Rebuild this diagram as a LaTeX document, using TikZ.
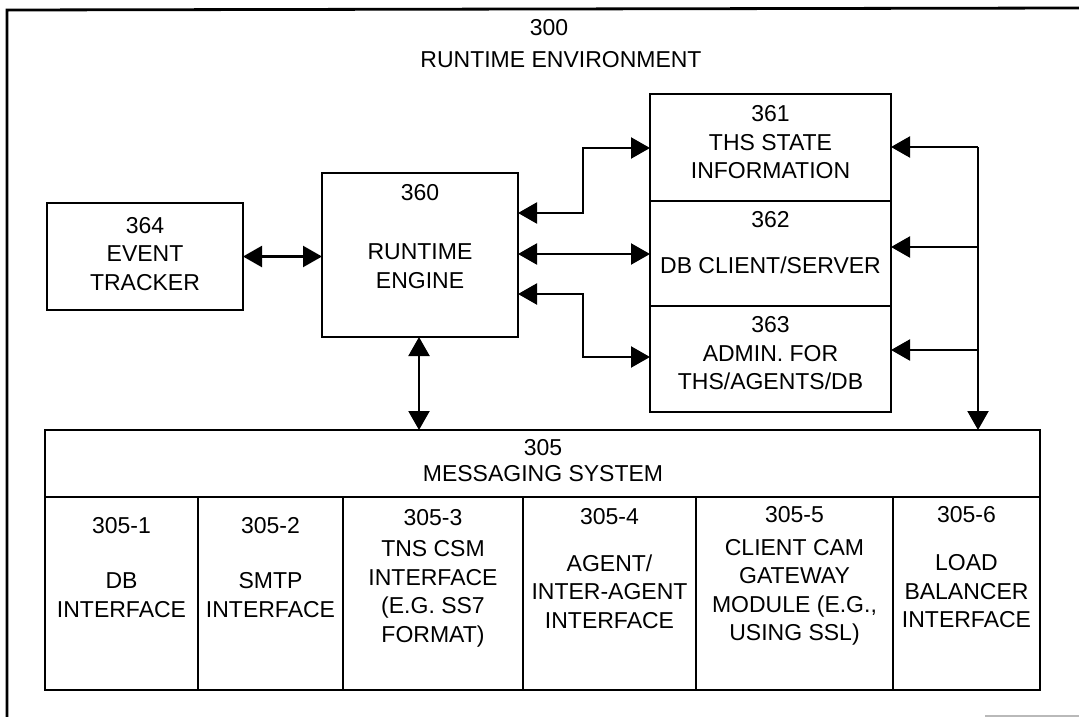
\documentclass[tikz,border=0pt]{standalone}
\usepackage{fontspec}
\setmainfont{Liberation Sans}
\usetikzlibrary{arrows.meta}
\begin{document}
\begin{tikzpicture}[x=1pt,y=-1pt,
  box/.style={draw, line width=2.8pt, rectangle, inner sep=0pt, outer sep=0pt},
  txt/.style={align=center, inner sep=0pt, font=\fontsize{23}{28.5}\selectfont},
  tip/.tip={Triangle[length=19pt,width=21pt]},
  conn/.style={line width=2.2pt, -tip},
  biconn/.style={line width=2.2pt, tip-tip}]
\useasboundingbox (0,0) rectangle (1079,717);
\fill[white] (0,0) rectangle (1079,717);
% outer frame (partly cut off)
\draw[line width=2.8pt] (7,717) -- (7,10) -- (1079,8);
\draw[gray!55, line width=1.5pt] (985,716) -- (1079,716);
\node[txt] (t300) at (549,28) {300};
\node[txt] (tenv) at (561,60) {RUNTIME ENVIRONMENT};

% boxes
\node[box, minimum width=196pt, minimum height=107pt] (b364) at (145,256.5) {};
\node[box, minimum width=196pt, minimum height=164pt] (b360) at (420,255) {};
\node[box, minimum width=241pt, minimum height=107pt] (b361) at (770.5,147.5) {};
\node[box, minimum width=241pt, minimum height=105pt] (b362) at (770.5,253.5) {};
\node[box, minimum width=241pt, minimum height=106pt] (b363) at (770.5,359) {};
\node[box, minimum width=995pt, minimum height=67pt] (b305) at (542.5,463.5) {};
\node[box, minimum width=153pt, minimum height=193pt] (c1) at (121.5,593.5) {};
\node[box, minimum width=145pt, minimum height=193pt] (c2) at (270.5,593.5) {};
\node[box, minimum width=180pt, minimum height=193pt] (c3) at (433,593.5) {};
\node[box, minimum width=173pt, minimum height=193pt] (c4) at (609.5,593.5) {};
\node[box, minimum width=197pt, minimum height=193pt] (c5) at (794.5,593.5) {};
\node[box, minimum width=147pt, minimum height=193pt] (c6) at (966.5,593.5) {};

% texts
\node[txt] (l364) at (145,254) {364\\EVENT\\TRACKER};
\node[txt] (n360) at (420,193) {360};
\node[txt] (l360) at (420,266) {RUNTIME\\ENGINE};
\node[txt] (l361) at (770.5,142.5) {361\\THS STATE\\INFORMATION};
\node[txt] (n362) at (770.5,220) {362};
\node[txt] (l362) at (770.5,265) {DB CLIENT/SERVER};
\node[txt] (l363) at (770.5,353.5) {363\\ADMIN. FOR\\THS/AGENTS/DB};
\node[txt, font=\fontsize{23}{26}\selectfont] (l305) at (543,461) {305\\MESSAGING SYSTEM};
\node[txt] (n1) at (121.5,526) {305-1};
\node[txt] (d1) at (121.5,595) {DB\\INTERFACE};
\node[txt] (n2) at (270.5,526) {305-2};
\node[txt] (d2) at (270.5,595) {SMTP\\INTERFACE};
\node[txt] (n3) at (433,518) {305-3};
\node[txt] (d3) at (433,594) {TNS CSM\\INTERFACE\\(E.G. SS7\\FORMAT)};
\node[txt] (n4) at (609.5,517) {305-4};
\node[txt] (d4) at (609.5,591.5) {AGENT/\\INTER-AGENT\\INTERFACE};
\node[txt] (n5) at (794.5,515) {305-5};
\node[txt] (d5) at (794.5,592.5) {CLIENT CAM\\GATEWAY\\MODULE (E.G.,\\USING SSL)};
\node[txt] (n6) at (966.5,515) {305-6};
\node[txt] (d6) at (966.5,591.5) {LOAD\\BALANCER\\INTERFACE};

% junction coordinates
\coordinate (ja) at (583,213);
\coordinate (jb) at (583,148);
\coordinate (jc) at (583,294);
\coordinate (jd) at (583,357);
\coordinate (bt) at (978,147);
\coordinate (bm) at (978,247);
\coordinate (bl) at (978,350);
\coordinate (bb) at (978,430);
\coordinate (ve) at (419,430);

% connectors
\draw[biconn] (b364.east) -- (b364.east -| b360.west);
\draw[biconn] (b360.east |- ja) -- (ja) -- (jb) -- (b361.west |- jb);
\draw[biconn] (b360.east |- 0,254) -- (b362.west |- 0,254);
\draw[biconn] (b360.east |- jc) -- (jc) -- (jd) -- (b363.west |- jd);
\draw[biconn] (b360.south -| ve) -- (b305.north -| ve);
\draw[conn] (bt) -- (b305.north -| bb);
\draw[conn] (bt) -- (b361.east |- bt);
\draw[conn] (bm) -- (b362.east |- bm);
\draw[conn] (bl) -- (b363.east |- bl);
\end{tikzpicture}
\end{document}
